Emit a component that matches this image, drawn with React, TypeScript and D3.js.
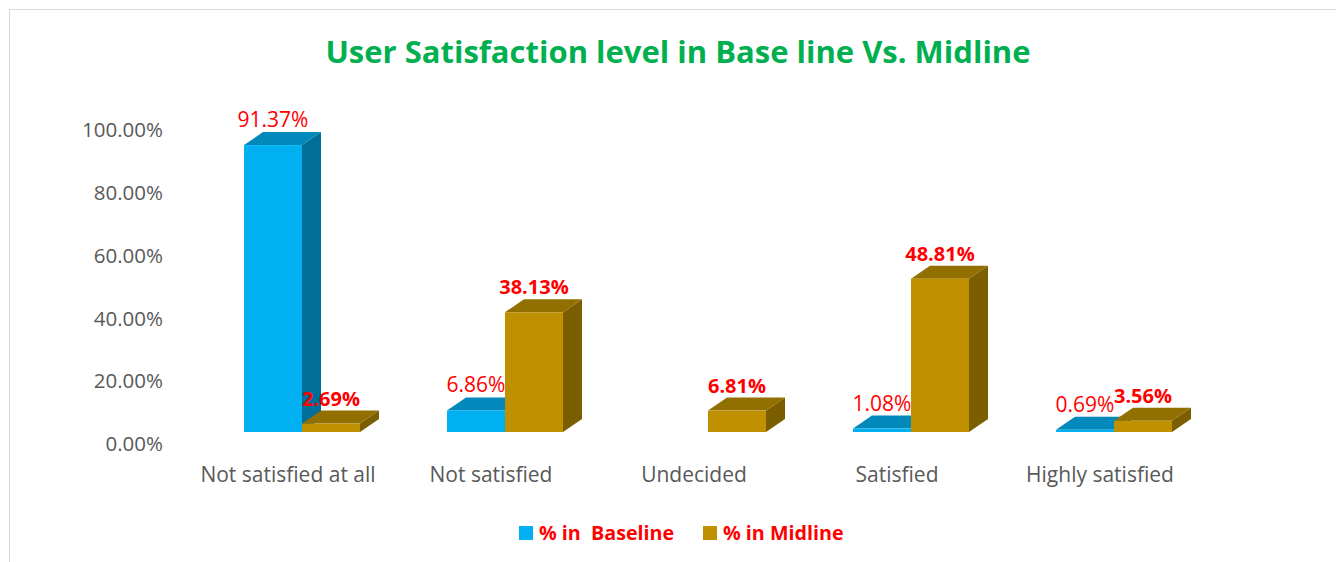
import React from "react";
import * as d3 from "d3";

const categories = ["Not satisfied at all", "Not satisfied", "Undecided", "Satisfied", "Highly satisfied"];
const seriesNames = ["% in  Baseline", "% in Midline"];
const baseline = [91.37, 6.86, 0, 1.08, 0.69];
const midline = [2.69, 38.13, 6.81, 48.81, 3.56];
const yTicks = [0, 20, 40, 60, 80, 100];
const title = "User Satisfaction level in Base line Vs. Midline";

const colors = [
  { front: "#00B0F0", top: "#0089BA", side: "#006F98" },
  { front: "#BF9000", top: "#927000", side: "#7A5E00" },
];

const W = 1336;
const H = 562;
const DX = 19;
const DY = -13;
const FONT = "'Open Sans', 'Noto Sans', sans-serif";

export default function App() {
  const xCenter = d3.scalePoint<string>().domain(categories).range([302, 1114]);
  const xInner = d3.scaleBand<string>().domain(seriesNames).range([-58, 58]).padding(0);
  const yFront = d3.scaleLinear().domain([0, 100]).range([432, 118]);
  const yAxis = d3.scaleLinear().domain([0, 100]).range([444, 130]);
  const series = [baseline, midline];
  const bw = xInner.bandwidth();

  const bars: React.ReactNode[] = [];
  const labels: React.ReactNode[] = [];
  categories.forEach((c, ci) => {
    series.forEach((vals, si) => {
      const v = vals[ci];
      const x0 = (xCenter(c) as number) + (xInner(seriesNames[si]) as number);
      const x1 = x0 + bw;
      const yb = yFront(0);
      const yt = yFront(v);
      const col = colors[si];
      if (v > 0) {
        const side = `M${x1},${yb} L${x1 + DX},${yb + DY} L${x1 + DX},${yt + DY} L${x1},${yt} Z`;
        const top = `M${x0},${yt} L${x0 + DX},${yt + DY} L${x1 + DX},${yt + DY} L${x1},${yt} Z`;
        bars.push(
          <g key={`b${ci}-${si}`}>
            <path d={side} fill={col.side} />
            <path d={top} fill={col.top} />
            <rect x={x0} y={yt} width={bw} height={Math.max(yb - yt, 0.8)} fill={col.front} />
          </g>
        );
        labels.push(
          <text
            key={`l${ci}-${si}`}
            x={(x0 + x1) / 2}
            y={yt + DY - 5}
            textAnchor="middle"
            fill="#FF0000"
            fontSize={si === 1 ? 20 : 21}
            fontWeight={si === 1 ? 700 : 400}
            fontFamily={FONT}
          >
            {v.toFixed(2)}%
          </text>
        );
      }
    });
  });

  return (
    <svg width={W} height={H} style={{ position: "absolute", left: 0, top: 0 }}>
      <rect x={0} y={0} width={W} height={H} fill="#fff" />
      <path d={`M9.5,${H} L9.5,9.5 L${W},9.5`} fill="none" stroke="#D9D9D9" strokeWidth={1} />
      <text x={678} y={63} textAnchor="middle" fill="#00B050" fontSize={31} fontWeight={700} fontFamily={FONT}>
        {title}
      </text>
      {yTicks.map((t) => (
        <text
          key={t}
          x={163}
          y={yAxis(t)}
          dy="0.35em"
          textAnchor="end"
          fill="#595959"
          fontSize={20.5}
          fontFamily={FONT}
        >
          {t.toFixed(2)}%
        </text>
      ))}
      {bars}
      {labels}
      {categories.map((c) => (
        <text
          key={c}
          x={(xCenter(c) as number) - 14}
          y={475}
          dy="0.35em"
          textAnchor="middle"
          fill="#595959"
          fontSize={21}
          fontFamily={FONT}
        >
          {c}
        </text>
      ))}
      {seriesNames.map((s, i) => {
        const lx = [519, 703][i];
        return (
          <g key={s}>
            <rect x={lx} y={526} width={14} height={14} fill={colors[i].front} />
            <text x={lx + 20} y={533} dy="0.35em" fill="#FF0000" fontSize={19.7} fontWeight={700} fontFamily={FONT} style={{ whiteSpace: "pre" }}>
              {s}
            </text>
          </g>
        );
      })}
    </svg>
  );
}
